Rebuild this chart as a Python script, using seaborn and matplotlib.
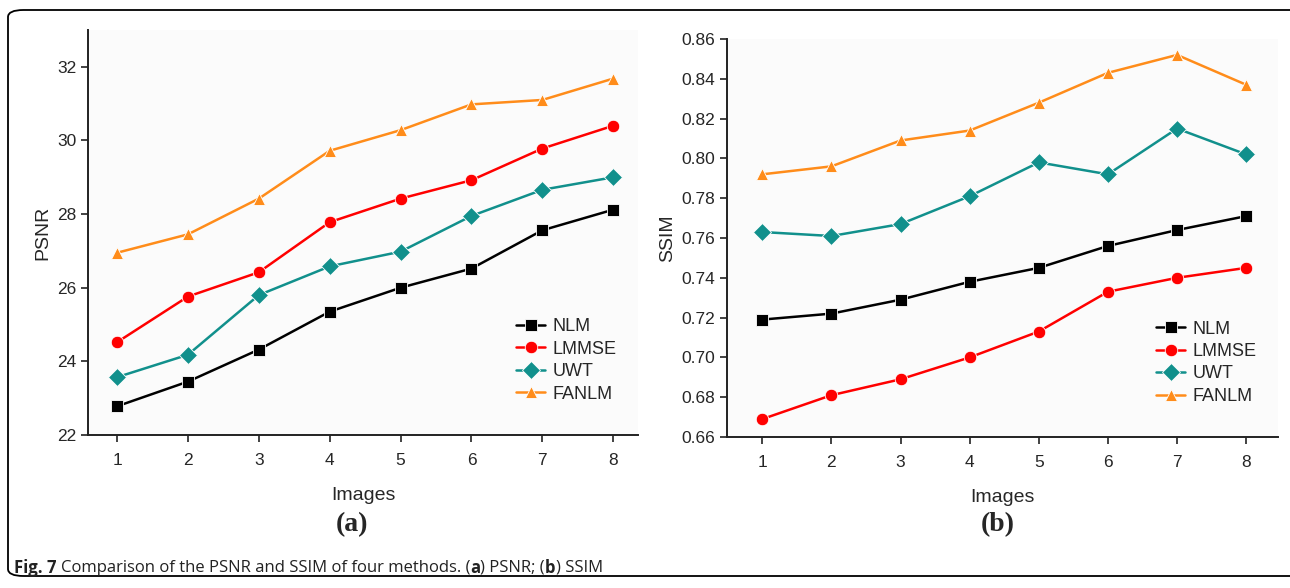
import pandas as pd
import matplotlib
matplotlib.use("Agg")
import matplotlib.pyplot as plt
from matplotlib.patches import FancyBboxPatch
import seaborn as sns

# --- dados ---
images = [1, 2, 3, 4, 5, 6, 7, 8]
methods = ["NLM", "LMMSE", "UWT", "FANLM"]

psnr_nlm = [22.78, 23.45, 24.32, 25.35, 26.00, 26.52, 27.56, 28.12]
psnr_lmmse = [24.52, 25.76, 26.42, 27.78, 28.42, 28.92, 29.78, 30.40]
psnr_uwt = [23.57, 24.18, 25.80, 26.58, 26.98, 27.95, 28.66, 29.00]
psnr_fanlm = [26.95, 27.45, 28.42, 29.72, 30.28, 30.98, 31.10, 31.68]

ssim_nlm = [0.719, 0.722, 0.729, 0.738, 0.745, 0.756, 0.764, 0.771]
ssim_lmmse = [0.669, 0.681, 0.689, 0.700, 0.713, 0.733, 0.740, 0.745]
ssim_uwt = [0.763, 0.761, 0.767, 0.781, 0.798, 0.792, 0.815, 0.802]
ssim_fanlm = [0.792, 0.796, 0.809, 0.814, 0.828, 0.843, 0.852, 0.837]

cores = {"NLM": "#000000", "LMMSE": "#ff0000", "UWT": "#11908c", "FANLM": "#ff8c1a"}
marcadores = {"NLM": "s", "LMMSE": "o", "UWT": "D", "FANLM": "^"}

rows = []
for m, p, s in zip(methods, [psnr_nlm, psnr_lmmse, psnr_uwt, psnr_fanlm],
                   [ssim_nlm, ssim_lmmse, ssim_uwt, ssim_fanlm]):
    for i, pv, sv in zip(images, p, s):
        rows.append({"Images": i, "Method": m, "PSNR": pv, "SSIM": sv})
df = pd.DataFrame(rows)

sns.set_style("ticks")
plt.rcParams["font.family"] = ["Liberation Sans", "DejaVu Sans"]

fig = plt.figure(figsize=(12.9, 5.88), dpi=100)
fig.patch.set_facecolor("white")

# moldura arredondada
moldura = FancyBboxPatch((8 / 1290, 12 / 588), 1.02, 1 - 22 / 588,
                         boxstyle="round,pad=0,rounding_size=0.012",
                         transform=fig.transFigure, fill=False,
                         edgecolor="black", linewidth=1.3, clip_on=False)
fig.patches.append(moldura)

ax1 = fig.add_axes([88 / 1290, 1 - 435 / 588, (638 - 88) / 1290, (435 - 30) / 588])
ax2 = fig.add_axes([727 / 1290, 1 - 437 / 588, (1278 - 727) / 1290, (437 - 39) / 588])

for ax, col, ylim, yticks, fmt in [
    (ax1, "PSNR", (22, 33), [22, 24, 26, 28, 30, 32], "{:.0f}"),
    (ax2, "SSIM", (0.66, 0.86), [0.66 + 0.02 * k for k in range(11)], "{:.2f}"),
]:
    ax.set_facecolor("#fbfbfb")
    sns.lineplot(data=df, x="Images", y=col, hue="Method", style="Method",
                 markers=marcadores, dashes=False, palette=cores,
                 hue_order=methods, style_order=methods,
                 markersize=9, linewidth=1.8, markeredgewidth=0.6, ax=ax)
    ax.set_ylim(*ylim)
    ax.set_yticks(yticks)
    ax.set_yticklabels([fmt.format(v) for v in yticks])
    ax.set_xticks(images)
    ax.set_xlabel("Images", fontsize=14, labelpad=14)
    ax.set_ylabel(col, fontsize=14, labelpad=4)
    ax.tick_params(axis="both", labelsize=12.5, width=1.2, length=5, color="#222222")
    ax.tick_params(axis="x", pad=8)
    sns.despine(ax=ax)
    for sp in ["left", "bottom"]:
        ax.spines[sp].set_linewidth(1.4)
        ax.spines[sp].set_color("#222222")
    ax.legend(loc="lower right", bbox_to_anchor=(0.99, 0.04), frameon=False,
              fontsize=13, handlelength=1.6, handletextpad=0.4, labelspacing=0.3)

ax1.set_xlim(0.59, 8.35)
ax2.set_xlim(0.49, 8.46)

fig.text(352 / 1290, 1 - 525 / 588, "(a)", ha="center", va="center",
         fontsize=20, fontweight="bold", family="Liberation Serif")
fig.text(998 / 1290, 1 - 525 / 588, "(b)", ha="center", va="center",
         fontsize=20, fontweight="bold", family="Liberation Serif")

# legenda da figura, com partes em negrito
partes = [("Fig. 7 ", "bold"), ("Comparison of the PSNR and SSIM of four methods. (", "normal"),
          ("a", "bold"), (") PSNR; (", "normal"), ("b", "bold"), (") SSIM", "normal")]
fig.canvas.draw()
x = 14 / 1290
for texto, peso in partes:
    t = fig.text(x, 1 - 568 / 588, texto, ha="left", va="center", fontsize=12,
                 fontweight=peso, family="Open Sans", color="#222222")
    bb = t.get_window_extent(renderer=fig.canvas.get_renderer())
    x = bb.x1 / fig.bbox.width

fig.savefig("out.png", dpi=100)
